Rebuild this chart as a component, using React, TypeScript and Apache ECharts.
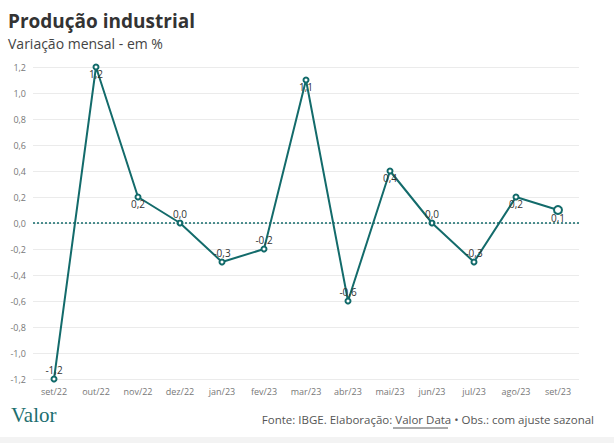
import React, { useEffect, useRef } from "react";
import * as echarts from "echarts";

const categories = ["set/22", "out/22", "nov/22", "dez/22", "jan/23", "fev/23", "mar/23", "abr/23", "mai/23", "jun/23", "jul/23", "ago/23", "set/23"];
const values = [-1.2, 1.2, 0.2, 0.0, -0.3, -0.2, 1.1, -0.6, 0.4, 0.0, -0.3, 0.2, 0.1];

const fmt = (v: number) => v.toFixed(1).replace(".", ",").replace("-0,0", "0,0");
const TEAL = "#136b6b";
const FONT = "Open Sans";

export default function App() {
  const ref = useRef<HTMLDivElement>(null);
  useEffect(() => {
    const chart = echarts.init(ref.current!, undefined, { renderer: "svg" });
    const data = values.map((v, i) => ({
      value: v,
      symbolSize: i === values.length - 1 ? 8 : 5,
      label: { position: v > 0 ? "bottom" : "top", distance: v > 0 ? -2 : 1 },
    }));
    chart.setOption({
      animation: false,
      backgroundColor: "#ffffff",
      textStyle: { fontFamily: FONT },
      title: [
        {
          text: "Produção industrial",
          left: 8,
          top: 10,
          padding: 0,
          textStyle: { fontFamily: FONT, fontSize: 19, lineHeight: 22, fontWeight: "bold", color: "#333333" },
        },
        {
          text: "Variação mensal - em %",
          left: 8,
          top: 35,
          padding: 0,
          textStyle: { fontFamily: FONT, fontSize: 14, lineHeight: 16, fontWeight: "normal", color: "#444444" },
        },
      ],
      grid: { left: 33, right: 35, top: 67, bottom: 64, containLabel: false },
      xAxis: {
        type: "category",
        data: categories,
        boundaryGap: true,
        axisLine: { show: false },
        axisTick: { show: false },
        axisLabel: { color: "#777777", fontSize: 9, fontFamily: FONT, margin: 8 },
        splitLine: { show: false },
      },
      yAxis: {
        type: "value",
        min: -1.2,
        max: 1.2,
        interval: 0.2,
        axisLine: { show: false },
        axisTick: { show: false },
        axisLabel: { color: "#777777", fontSize: 9, fontFamily: FONT, margin: 7, formatter: (v: number) => fmt(v) },
        splitLine: { lineStyle: { color: "#ebebeb", width: 1 } },
      },
      series: [
        {
          type: "line",
          data,
          symbol: "circle",
          showAllSymbol: true,
          lineStyle: { color: TEAL, width: 2 },
          itemStyle: { color: "#ffffff", borderColor: TEAL, borderWidth: 2 },
          label: {
            show: true,
            fontSize: 10,
            fontFamily: FONT,
            color: "#333333",
            formatter: (p: any) => fmt(p.value),
          },
          markLine: {
            silent: true,
            symbol: "none",
            label: { show: false },
            lineStyle: { color: TEAL, type: [2, 2], width: 1.5 },
            data: [{ yAxis: 0 }],
          },
          z: 3,
        },
      ],
      graphic: [
        {
          type: "text",
          left: 11,
          top: 404,
          style: { text: "Valor", fontFamily: "Liberation Serif", fontSize: 21, fontWeight: "normal", fill: "#1d6f6f" },
        },
        {
          type: "text",
          right: 20,
          top: 413,
          style: { text: "Fonte: IBGE. Elaboração: Valor Data • Obs.: com ajuste sazonal", fontFamily: FONT, fontSize: 11.5, fill: "#555555" },
        },
        {
          type: "line",
          shape: { x1: 393, y1: 428, x2: 448, y2: 428 },
          style: { stroke: "#555555", lineWidth: 1 },
        },
        {
          type: "rect",
          shape: { x: 0, y: 437, width: 614, height: 6 },
          style: { fill: "#f3f3f3" },
        },
      ],
    });
    return () => chart.dispose();
  }, []);
  return <div ref={ref} style={{ width: 614, height: 443, position: "absolute", left: 0, top: 0 }} />;
}
